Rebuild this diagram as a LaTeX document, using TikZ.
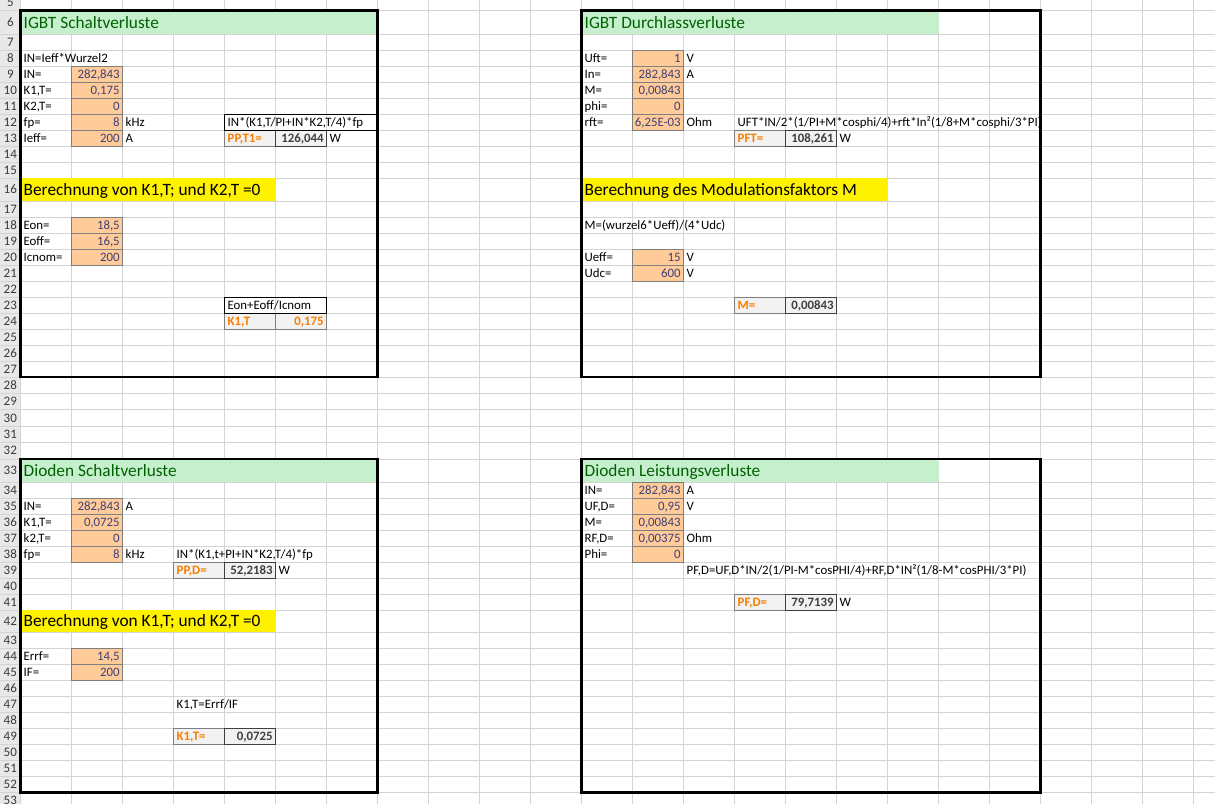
\documentclass[tikz,border=0pt]{standalone}
\usepackage{fontspec}
\setmainfont{Carlito}
\usepackage{xcolor}
\usepackage{tikz}
\usetikzlibrary{positioning,calc}

\definecolor{gridgray}{HTML}{D4D4D4}
\definecolor{headgray}{HTML}{E8E8E8}
\definecolor{headtext}{HTML}{3A3A3A}
\definecolor{goodfill}{HTML}{C6EFCE}
\definecolor{goodtext}{HTML}{006100}
\definecolor{inputfill}{HTML}{FFCC99}
\definecolor{inputtext}{HTML}{3F3F76}
\definecolor{calcfill}{HTML}{F2F2F2}
\definecolor{calctext}{HTML}{FA7D00}
\definecolor{outgray}{HTML}{3F3F3F}
\definecolor{midgray}{HTML}{7F7F7F}

\begin{document}
\begin{tikzpicture}[x=0.02cm, y=-0.02cm]
  % Define styles
  \tikzstyle{gridline} = [draw=gridgray, line width=0.55pt]
  \tikzstyle{frame} = [draw=black, line width=1.6pt]
  \tikzstyle{rownum} = [font=\fontsize{7.4}{9}\selectfont, text=headtext, inner sep=0pt]
  \tikzstyle{txt} = [anchor=base west, inner sep=0pt, xshift=1.5pt, yshift=2pt, font=\fontsize{7.3}{9}\selectfont]
  \tikzstyle{num} = [anchor=base east, inner sep=0pt, xshift=-1.5pt, yshift=2pt, font=\fontsize{7.3}{9}\selectfont]
  \tikzstyle{innum} = [num, text=inputtext]
  \tikzstyle{outnum} = [num, text=outgray, font=\fontsize{7.3}{9}\selectfont\bfseries]
  \tikzstyle{calcnum} = [num, text=calctext, font=\fontsize{7.3}{9}\selectfont\bfseries]
  \tikzstyle{calclabel} = [txt, text=calctext, font=\fontsize{7.3}{9}\selectfont\bfseries]
  \tikzstyle{title} = [txt, yshift=1.4pt, font=\fontsize{9.85}{12}\selectfont]
  \tikzstyle{goodtitle} = [title, text=goodtext]
  \tikzstyle{inputcell} = [fill=inputfill, draw=midgray, line width=0.55pt]
  \tikzstyle{calccell} = [fill=calcfill, draw=midgray, line width=0.55pt]
  \tikzstyle{outcell} = [fill=calcfill, draw=outgray, line width=0.55pt]
  \tikzstyle{formulabox} = [draw=black, line width=0.55pt]

  \fill[white] (0,0) rectangle (1215,804);
  \useasboundingbox (0,0) rectangle (1215,804);

  % Columns and rows of the sheet
  \foreach \n [count=\i from 0] in {B,C,D,E,F,G,H,I,J,K,L,M,N,O,P,Q,R,S,T,U,V,W,X,Y}
    \coordinate (c\n) at (20.7+51*\i,0);
  \foreach \r/\b in {4/-6, 5/10.3, 6/34.3, 7/50.3, 8/66.3, 9/82.3, 10/98.3, 11/114.3,
      12/130.3, 13/146.3, 14/162.3, 15/178.3, 16/201, 17/217, 18/233, 19/249, 20/265,
      21/281, 22/297, 23/313, 24/329, 25/345, 26/361, 27/377, 28/393.4, 29/409.8,
      30/426.2, 31/442.6, 32/459, 33/482.3, 34/498.3, 35/514.3, 36/530.3, 37/546.3,
      38/562.3, 39/578.3, 40/594.3, 41/610.3, 42/632.3, 43/648.3, 44/664.3, 45/680.3,
      46/696.3, 47/712.3, 48/728.3, 49/744.3, 50/760.3, 51/776.3, 52/792.3, 53/808.3}
    \coordinate (r\r) at (0,\b);

  % Row header and grid
  \fill[headgray] (0,-6) rectangle (cB |- 0,810);
  \foreach \r in {5,...,52}
    \draw[gridline] (r\r) -- ++(1215,0);
  \foreach \n in {B,C,D,E,F,G,H,I,J,K,L,M,N,O,P,Q,R,S,T,U,V,W,X,Y}
    \draw[gridline] (c\n |- 0,-10) -- (c\n |- 0,810);
  \foreach \r [evaluate=\r as \p using int(\r-1)] in {5,...,53}
    \node[rownum] (h\r) at ($(r\p)!0.5!(r\r) + (10.3,0)$) {\r};

  % Coloured headings
  \fill[goodfill] (cB |- r5) rectangle (cI |- r6);
  \fill[goodfill] (cM |- r5) rectangle (cT |- r6);
  \fill[goodfill] (cB |- r32) rectangle (cI |- r33);
  \fill[goodfill] (cM |- r32) rectangle (cT |- r33);
  \fill[yellow] (cB |- r15) rectangle (cG |- r16);
  \fill[yellow] (cM |- r15) rectangle (cS |- r16);
  \fill[yellow] (cB |- r41) rectangle (cG |- r42);

  % Input cells
  \foreach \r [evaluate=\r as \p using int(\r-1)] in {9,...,13,18,19,20,35,36,37,38,44,45}
    \draw[inputcell] (cC |- r\p) rectangle (cD |- r\r);
  \foreach \r [evaluate=\r as \p using int(\r-1)] in {8,...,12,20,21,34,35,36,37,38}
    \draw[inputcell] (cN |- r\p) rectangle (cO |- r\r);

  % IGBT Schaltverluste
  \node[goodtitle] (schalttitle) at (cB |- r6) {IGBT Schaltverluste};
  \node[txt] (schaltformin) at (cB |- r8) {IN=Ieff*Wurzel2};
  \node[txt] (schaltinlbl) at (cB |- r9) {IN=};
  \node[txt] (schaltk1lbl) at (cB |- r10) {K1,T=};
  \node[txt] (schaltk2lbl) at (cB |- r11) {K2,T=};
  \node[txt] (schaltfplbl) at (cB |- r12) {fp=};
  \node[txt] (schaltiefflbl) at (cB |- r13) {Ieff=};
  \node[innum] (schaltin) at (cD |- r9) {282,843};
  \node[innum] (schaltk1) at (cD |- r10) {0,175};
  \node[innum] (schaltk2) at (cD |- r11) {0};
  \node[innum] (schaltfp) at (cD |- r12) {8};
  \node[innum] (schaltieff) at (cD |- r13) {200};
  \node[txt] (schaltkhz) at (cD |- r12) {kHz};
  \node[txt] (schaltamp) at (cD |- r13) {A};
  \draw[calccell] (cF |- r12) rectangle (cG |- r13);
  \draw[outcell] (cG |- r12) rectangle (cH |- r13);
  \draw[formulabox] (cF |- r11) rectangle (cI |- r12);
  \node[txt] (schaltformel) at (cF |- r12) {IN*(K1,T/PI+IN*K2,T/4)*fp};
  \node[calclabel] (schaltpplbl) at (cF |- r13) {PP,T1=};
  \node[outnum] (schaltpp) at (cH |- r13) {126,044};
  \node[txt] (schaltwatt) at (cH |- r13) {W};
  \node[title] (schaltk) at (cB |- r16) {Berechnung von K1,T; und K2,T =0};
  \node[txt] (eonlbl) at (cB |- r18) {Eon=};
  \node[txt] (eofflbl) at (cB |- r19) {Eoff=};
  \node[txt] (icnomlbl) at (cB |- r20) {Icnom=};
  \node[innum] (eon) at (cD |- r18) {18,5};
  \node[innum] (eoff) at (cD |- r19) {16,5};
  \node[innum] (icnom) at (cD |- r20) {200};
  \draw[calccell] (cF |- r23) rectangle (cG |- r24);
  \draw[calccell] (cG |- r23) rectangle (cH |- r24);
  \draw[formulabox] (cF |- r22) rectangle (cH |- r23);
  \node[txt] (schaltkformel) at (cF |- r23) {Eon+Eoff/Icnom};
  \node[calclabel] (schaltk1reslbl) at (cF |- r24) {K1,T};
  \node[calcnum] (schaltk1res) at (cH |- r24) {0,175};

  % IGBT Durchlassverluste
  \node[goodtitle] (durchtitle) at (cM |- r6) {IGBT Durchlassverluste};
  \node[txt] (uftlbl) at (cM |- r8) {Uft=};
  \node[txt] (durchinlbl) at (cM |- r9) {In=};
  \node[txt] (durchmlbl) at (cM |- r10) {M=};
  \node[txt] (durchphilbl) at (cM |- r11) {phi=};
  \node[txt] (rftlbl) at (cM |- r12) {rft=};
  \node[innum] (uft) at (cO |- r8) {1};
  \node[innum] (durchin) at (cO |- r9) {282,843};
  \node[innum] (durchm) at (cO |- r10) {0,00843};
  \node[innum] (durchphi) at (cO |- r11) {0};
  \node[innum] (rft) at (cO |- r12) {6,25E-03};
  \node[txt] (uftvolt) at (cO |- r8) {V};
  \node[txt] (durchamp) at (cO |- r9) {A};
  \node[txt] (rftohm) at (cO |- r12) {Ohm};
  \node[txt] (durchformel) at (cP |- r12) {UFT*IN/2*(1/PI+M*cosphi/4)+rft*In²(1/8+M*cosphi/3*PI)};
  \draw[calccell] (cP |- r12) rectangle (cQ |- r13);
  \draw[outcell] (cQ |- r12) rectangle (cR |- r13);
  \node[calclabel] (pftlbl) at (cP |- r13) {PFT=};
  \node[outnum] (pft) at (cR |- r13) {108,261};
  \node[txt] (pftwatt) at (cR |- r13) {W};
  \node[title] (durchmod) at (cM |- r16) {Berechnung des Modulationsfaktors M};
  \node[txt] (mformel) at (cM |- r18) {M=(wurzel6*Ueff)/(4*Udc)};
  \node[txt] (uefflbl) at (cM |- r20) {Ueff=};
  \node[txt] (udclbl) at (cM |- r21) {Udc=};
  \node[innum] (ueff) at (cO |- r20) {15};
  \node[innum] (udc) at (cO |- r21) {600};
  \node[txt] (ueffvolt) at (cO |- r20) {V};
  \node[txt] (udcvolt) at (cO |- r21) {V};
  \draw[calccell] (cP |- r22) rectangle (cQ |- r23);
  \draw[outcell] (cQ |- r22) rectangle (cR |- r23);
  \node[calclabel] (mreslbl) at (cP |- r23) {M=};
  \node[outnum] (mres) at (cR |- r23) {0,00843};

  % Dioden Schaltverluste
  \node[goodtitle] (dschalttitle) at (cB |- r33) {Dioden Schaltverluste};
  \node[txt] (dschaltinlbl) at (cB |- r35) {IN=};
  \node[txt] (dschaltk1lbl) at (cB |- r36) {K1,T=};
  \node[txt] (dschaltk2lbl) at (cB |- r37) {k2,T=};
  \node[txt] (dschaltfplbl) at (cB |- r38) {fp=};
  \node[innum] (dschaltin) at (cD |- r35) {282,843};
  \node[innum] (dschaltk1) at (cD |- r36) {0,0725};
  \node[innum] (dschaltk2) at (cD |- r37) {0};
  \node[innum] (dschaltfp) at (cD |- r38) {8};
  \node[txt] (dschaltamp) at (cD |- r35) {A};
  \node[txt] (dschaltkhz) at (cD |- r38) {kHz};
  \node[txt] (dschaltformel) at (cE |- r38) {IN*(K1,t+PI+IN*K2,T/4)*fp};
  \draw[calccell] (cE |- r38) rectangle (cF |- r39);
  \draw[outcell] (cF |- r38) rectangle (cG |- r39);
  \node[calclabel] (ppdlbl) at (cE |- r39) {PP,D=};
  \node[outnum] (ppd) at (cG |- r39) {52,2183};
  \node[txt] (ppdwatt) at (cG |- r39) {W};
  \node[title] (dschaltk) at (cB |- r42) {Berechnung von K1,T; und K2,T =0};
  \node[txt] (errflbl) at (cB |- r44) {Errf=};
  \node[txt] (iflbl) at (cB |- r45) {IF=};
  \node[innum] (errf) at (cD |- r44) {14,5};
  \node[innum] (if) at (cD |- r45) {200};
  \node[txt] (dschaltkformel) at (cE |- r47) {K1,T=Errf/IF};
  \draw[calccell] (cE |- r48) rectangle (cF |- r49);
  \draw[outcell] (cF |- r48) rectangle (cG |- r49);
  \node[calclabel] (dk1lbl) at (cE |- r49) {K1,T=};
  \node[outnum] (dk1) at (cG |- r49) {0,0725};

  % Dioden Leistungsverluste
  \node[goodtitle] (dleisttitle) at (cM |- r33) {Dioden Leistungsverluste};
  \node[txt] (dleistinlbl) at (cM |- r34) {IN=};
  \node[txt] (ufdlbl) at (cM |- r35) {UF,D=};
  \node[txt] (dleistmlbl) at (cM |- r36) {M=};
  \node[txt] (rfdlbl) at (cM |- r37) {RF,D=};
  \node[txt] (dleistphilbl) at (cM |- r38) {Phi=};
  \node[innum] (dleistin) at (cO |- r34) {282,843};
  \node[innum] (ufd) at (cO |- r35) {0,95};
  \node[innum] (dleistm) at (cO |- r36) {0,00843};
  \node[innum] (rfd) at (cO |- r37) {0,00375};
  \node[innum] (dleistphi) at (cO |- r38) {0};
  \node[txt] (dleistamp) at (cO |- r34) {A};
  \node[txt] (ufdvolt) at (cO |- r35) {V};
  \node[txt] (rfdohm) at (cO |- r37) {Ohm};
  \node[txt] (dleistformel) at (cO |- r39) {PF,D=UF,D*IN/2(1/PI-M*cosPHI/4)+RF,D*IN²(1/8-M*cosPHI/3*PI)};
  \draw[calccell] (cP |- r40) rectangle (cQ |- r41);
  \draw[outcell] (cQ |- r40) rectangle (cR |- r41);
  \node[calclabel] (pfdlbl) at (cP |- r41) {PF,D=};
  \node[outnum] (pfd) at (cR |- r41) {79,7139};
  \node[txt] (pfdwatt) at (cR |- r41) {W};

  % Frames round the four blocks
  \draw[frame] (cB |- r5) rectangle (cI |- r27);
  \draw[frame] (cM |- r5) rectangle (cV |- r27);
  \draw[frame] (cB |- r32) rectangle (cI |- r52);
  \draw[frame] (cM |- r32) rectangle (cV |- r52);
\end{tikzpicture}
\end{document}
